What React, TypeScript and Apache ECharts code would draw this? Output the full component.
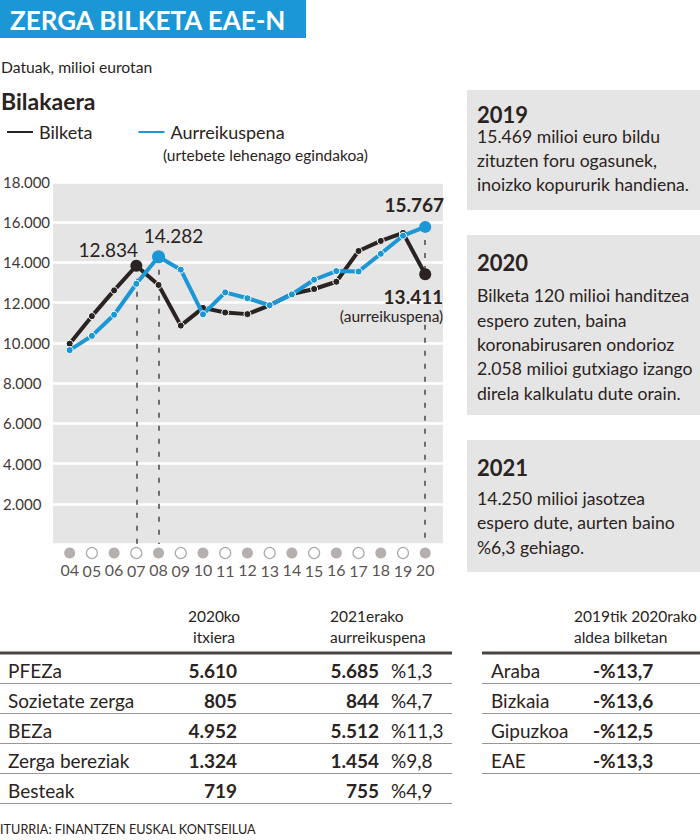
import React, { useEffect, useRef } from 'react';
import * as echarts from 'echarts';

// ---- data ----
const years = [4, 5, 6, 7, 8, 9, 10, 11, 12, 13, 14, 15, 16, 17, 18, 19, 20];
const yearLabels = ['04', '05', '06', '07', '08', '09', '10', '11', '12', '13', '14', '15', '16', '17', '18', '19', '20'];
const bilketa = [9960, 11330, 12610, 13834, 12880, 10860, 11740, 11510, 11430, 11870, 12430, 12680, 13040, 14570, 15070, 15469, 13411];
const aurreikuspena = [9640, 10350, 11400, 12940, 14282, 13640, 11420, 12510, 12220, 11870, 12410, 13140, 13570, 13550, 14430, 15330, 15767];
const yMax = 18000;
const yStep = 2000;

const bilketaPeakIdx = 3; // 2007
const bilketaPeakLabel = '12.834';
const aurrePeakIdx = 4; // 2008
const aurrePeakLabel = '14.282';
const lastIdx = 16; // 2020
const aurreLastLabel = '15.767';
const bilketaLastLabel = '13.411';
const bilketaLastNote = '(aurreikuspena)';
const dashGapFrom = 10900; // dashed line resumes below the annotation

const taxNames = ['PFEZa', 'Sozietate zerga', 'BEZa', 'Zerga bereziak', 'Besteak'];
const close2020 = [5610, 805, 4952, 1324, 719];
const forecast2021 = [5685, 844, 5512, 1454, 755];
const change2021 = [1.3, 4.7, 11.3, 9.8, 4.9];

const regions = ['Araba', 'Bizkaia', 'Gipuzkoa', 'EAE'];
const regionChange = [-13.7, -13.6, -12.5, -13.3];

const noteYears = ['2019', '2020', '2021'];
const noteLines = [
  ['15.469 milioi euro bildu', 'zituzten foru ogasunek,', 'inoizko kopururik handiena.'],
  ['Bilketa 120 milioi handitzea', 'espero zuten, baina', 'koronabirusaren ondorioz', '2.058 milioi gutxiago izango', 'direla kalkulatu dute orain.'],
  ['14.250 milioi jasotzea', 'espero dute, aurten baino', '%6,3 gehiago.'],
];

// ---- style ----
const FONT = 'Lato, "Noto Sans", sans-serif';
const DARK = '#2a2321';
const BLUE = '#1b97d5';
const GREY_BG = '#e5e5e5';

const fmt = (n: number) => String(n).replace(/\B(?=(\d{3})+(?!\d))/g, '.');
const fmtPct = (n: number) => (n < 0 ? '-' : '') + '%' + String(Math.abs(n)).replace('.', ',');

const txt = (text: string, x: number, y: number, o: any = {}) => ({
  type: 'text',
  x,
  y,
  silent: true,
  z: 10,
  style: {
    text,
    fontFamily: FONT,
    fontSize: o.size ?? 16,
    fontWeight: o.weight ?? 'normal',
    fill: o.color ?? DARK,
    textAlign: o.align ?? 'left',
    textVerticalAlign: 'middle',
  },
});
const hline = (x1: number, x2: number, y: number, color: string, w: number) => ({
  type: 'line',
  silent: true,
  shape: { x1, y1: y, x2, y2: y },
  style: { stroke: color, lineWidth: w },
});

export default function App() {
  const ref = useRef<HTMLDivElement>(null);
  useEffect(() => {
    if (!ref.current) return;
    const chart = echarts.init(ref.current, null, { renderer: 'svg' });

    const graphic: any[] = [];
    // title
    graphic.push({ type: 'rect', silent: true, shape: { x: 0, y: 0, width: 306, height: 38 }, style: { fill: BLUE } });
    graphic.push(txt('ZERGA BILKETA EAE-N', 10, 20, { size: 26, weight: 'bold', color: '#fff' }));
    graphic.push(txt('Datuak, milioi eurotan', 1, 67, { size: 15.7 }));
    graphic.push(txt('Bilakaera', 1, 101, { size: 23, weight: 'bold' }));
    graphic.push(txt('(urtebete lehenago egindakoa)', 163, 155, { size: 15.5 }));

    // notes
    const boxes = [
      { y: 90, h: 120, title: 114, lines: [136, 160, 184] },
      { y: 235, h: 180, title: 262, lines: [295, 320, 344, 368, 393] },
      { y: 440, h: 132, title: 467, lines: [498, 522, 547] },
    ];
    boxes.forEach((b, i) => {
      graphic.push({ type: 'rect', silent: true, shape: { x: 467, y: b.y, width: 233, height: b.h }, style: { fill: GREY_BG } });
      graphic.push(txt(noteYears[i], 477, b.title, { size: 22, weight: 'bold' }));
      noteLines[i].forEach((l, j) => graphic.push(txt(l, 477, b.lines[j], { size: 17.6 })));
    });

    // left table
    graphic.push(txt('2020ko', 214, 616, { size: 15.5, align: 'center' }));
    graphic.push(txt('itxiera', 214, 637, { size: 15.5, align: 'center' }));
    graphic.push(txt('2021erako', 330, 616, { size: 15.5 }));
    graphic.push(txt('aurreikuspena', 330, 637, { size: 15.5 }));
    graphic.push(hline(0, 452, 653, '#4a4442', 3));
    taxNames.forEach((n, i) => {
      const y = 670 + 30 * i;
      graphic.push(txt(n, 8, y, { size: 19 }));
      graphic.push(txt(fmt(close2020[i]), 237, y, { size: 19, weight: 'bold', align: 'right' }));
      graphic.push(txt(fmt(forecast2021[i]), 379, y, { size: 19, weight: 'bold', align: 'right' }));
      graphic.push(txt(fmtPct(change2021[i]), 391, y, { size: 19 }));
      graphic.push(hline(0, 452, 683.5 + 30 * i, '#9b9593', 1));
    });

    // right table
    graphic.push(txt('2019tik 2020rako', 574, 616, { size: 15.5 }));
    graphic.push(txt('aldea bilketan', 574, 637, { size: 15.5 }));
    graphic.push(hline(482, 700, 653, '#4a4442', 3));
    regions.forEach((n, i) => {
      const y = 670 + 30 * i;
      graphic.push(txt(n, 491, y, { size: 19 }));
      graphic.push(txt(fmtPct(regionChange[i]), 593, y, { size: 19, weight: 'bold' }));
      graphic.push(hline(482, 700, 683.5 + 30 * i, '#9b9593', 1));
    });

    graphic.push(txt('ITURRIA: FINANTZEN EUSKAL KONTSEILUA', 0, 829, { size: 12.7 }));

    const dash = { type: [5, 8], color: '#4a4442', width: 1.5 };

    const bilketaData = years.map((y, i) => {
      const item: any = { value: [y, bilketa[i]] };
      if (i === bilketaPeakIdx) {
        item.symbolSize = 12;
        item.itemStyle = { borderWidth: 0 };
        item.label = {
          show: true, formatter: bilketaPeakLabel, position: 'top', distance: 1, offset: [-28, 0],
          fontFamily: FONT, fontSize: 19, color: DARK,
        };
      }
      if (i === lastIdx) {
        item.symbolSize = 12;
        item.itemStyle = { borderWidth: 0 };
        item.label = {
          show: true, position: [24, 18], align: 'right', verticalAlign: 'top',
          formatter: '{b|' + bilketaLastLabel + '}\n{s|' + bilketaLastNote + '}',
          rich: {
            b: { fontFamily: FONT, fontSize: 19, fontWeight: 'bold', color: DARK, lineHeight: 20, align: 'right' },
            s: { fontFamily: FONT, fontSize: 15.5, color: DARK, lineHeight: 20, align: 'right' },
          },
        };
      }
      return item;
    });

    const aurreData = years.map((y, i) => {
      const item: any = { value: [y, aurreikuspena[i]] };
      if (i === aurrePeakIdx) {
        item.symbolSize = 13;
        item.itemStyle = { borderWidth: 0 };
        item.label = {
          show: true, formatter: aurrePeakLabel, position: 'top', distance: 4, offset: [15, -1],
          fontFamily: FONT, fontSize: 19, color: DARK,
        };
      }
      if (i === lastIdx) {
        item.symbolSize = 12;
        item.itemStyle = { borderWidth: 0 };
        item.label = {
          show: true, formatter: aurreLastLabel, position: 'top', distance: 5, offset: [-11, -2],
          fontFamily: FONT, fontSize: 19, fontWeight: 'bold', color: DARK,
        };
      }
      return item;
    });

    const option: any = {
      animation: false,
      backgroundColor: '#fff',
      textStyle: { fontFamily: FONT },
      graphic,
      legend: {
        left: 0,
        top: 118,
        icon: 'rect',
        itemWidth: 28,
        itemHeight: 4,
        itemGap: 44,
        data: ['Bilketa', 'Aurreikuspena'],
        textStyle: { fontFamily: FONT, fontSize: 18, color: DARK },
      },
      grid: {
        left: 50, right: 257, top: 182, bottom: 296,
        show: true, backgroundColor: GREY_BG, borderWidth: 0,
      },
      xAxis: {
        type: 'value', min: 3.25, max: 20.8,
        axisLine: { show: false }, axisTick: { show: false },
        axisLabel: { show: false }, splitLine: { show: false },
      },
      yAxis: {
        type: 'value', min: 0, max: yMax, interval: yStep,
        axisLine: { show: false }, axisTick: { show: false },
        splitLine: { lineStyle: { color: '#fff', width: 2.5 } },
        axisLabel: {
          margin: 50, align: 'left', fontFamily: FONT, fontSize: 15, color: '#3c3634',
          formatter: (v: number) => (v === 0 ? '' : fmt(v)),
        },
      },
      series: [
        {
          name: 'Bilketa', type: 'line', data: bilketaData, z: 3,
          symbol: 'circle', symbolSize: 7,
          lineStyle: { color: DARK, width: 4 },
          itemStyle: { color: DARK, borderColor: '#fff', borderWidth: 1 },
          markLine: {
            silent: true, symbol: 'none', label: { show: false }, lineStyle: dash, z: 1,
            data: [
              [{ coord: [years[bilketaPeakIdx], bilketa[bilketaPeakIdx]] }, { coord: [years[bilketaPeakIdx], 0] }],
            ],
          },
        },
        {
          name: 'Aurreikuspena', type: 'line', data: aurreData, z: 4,
          symbol: 'circle', symbolSize: 7,
          lineStyle: { color: BLUE, width: 4 },
          itemStyle: { color: BLUE, borderColor: '#fff', borderWidth: 1 },
          markLine: {
            silent: true, symbol: 'none', label: { show: false }, lineStyle: dash, z: 1,
            data: [
              [{ coord: [years[aurrePeakIdx], aurreikuspena[aurrePeakIdx]] }, { coord: [years[aurrePeakIdx], 0] }],
              [{ coord: [years[lastIdx], aurreikuspena[lastIdx]] }, { coord: [years[lastIdx], bilketa[lastIdx]] }],
              [{ coord: [years[lastIdx], dashGapFrom] }, { coord: [years[lastIdx], 0] }],
            ],
          },
        },
        {
          name: 'years', type: 'scatter', clip: false, silent: true, z: 5,
          data: years.map((y, i) => ({
            value: [y, 0],
            itemStyle: i % 2 === 0
              ? { color: '#a29c99', borderWidth: 0 }
              : { color: '#fff', borderColor: '#9a9491', borderWidth: 1.2 },
          })),
          symbol: 'circle', symbolSize: 11, symbolOffset: [0, 9],
          label: {
            show: true, position: 'bottom', distance: 3,
            formatter: (p: any) => yearLabels[p.dataIndex],
            fontFamily: FONT, fontSize: 16, color: DARK,
          },
        },
      ],
    };
    chart.setOption(option);
    return () => chart.dispose();
  }, []);

  return (
    <div
      ref={ref}
      style={{ position: 'absolute', left: 0, top: 0, width: 700, height: 840, background: '#fff' }}
    />
  );
}
